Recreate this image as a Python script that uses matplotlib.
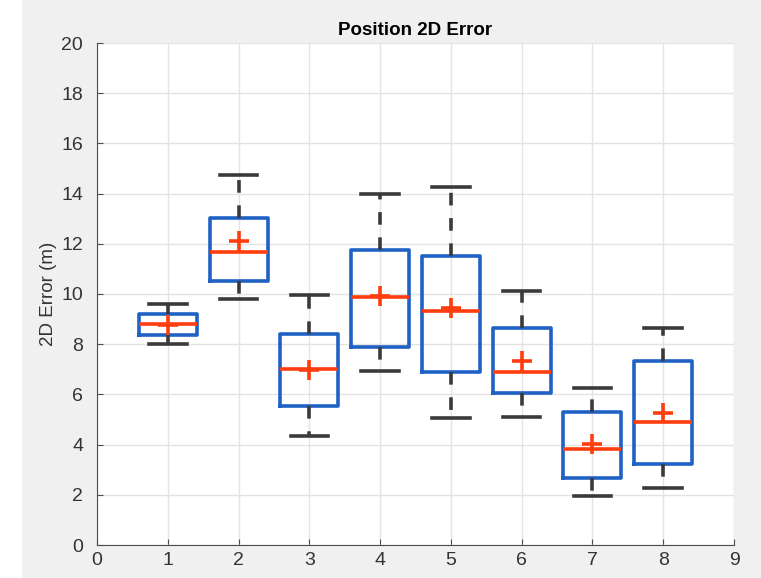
import matplotlib
matplotlib.use("Agg")
import matplotlib.pyplot as plt
from matplotlib.patches import Rectangle

plt.rcParams['font.family'] = ['Liberation Sans', 'DejaVu Sans']

# box statistics (metres)
groups = [1, 2, 3, 4, 5, 6, 7, 8]
q1 = [8.37, 10.53, 5.54, 7.88, 6.88, 6.04, 2.68, 3.23]
medians = [8.79, 11.69, 7.00, 9.89, 9.34, 6.89, 3.81, 4.91]
q3 = [9.19, 13.04, 8.39, 11.74, 11.51, 8.63, 5.28, 7.34]
whis_lo = [8.02, 9.79, 4.34, 6.95, 5.05, 5.11, 1.97, 2.28]
whis_hi = [9.60, 14.73, 9.96, 14.00, 14.25, 10.11, 6.24, 8.63]
means = [8.75, 12.11, 6.98, 9.93, 9.43, 7.33, 4.03, 5.25]

blue = '#1f62c4'
orange = '#ff3d0d'
dark = '#3a3a3a'

# Build stats for bxp
stats = []
for i in range(len(groups)):
    stats.append({'med': medians[i], 'q1': q1[i], 'q3': q3[i],
                  'whislo': whis_lo[i], 'whishi': whis_hi[i],
                  'mean': means[i], 'fliers': []})

fig = plt.figure(figsize=(7.61, 5.78), dpi=100, facecolor='#f0f0f0')
fig.patches.append(Rectangle((0, 0), 22 / 761, 1, transform=fig.transFigure,
                             facecolor='white', edgecolor='none', zorder=-1))
ax = fig.add_axes([97 / 761, 33 / 578, 637 / 761, 502 / 578])

ax.bxp(stats, positions=groups, widths=0.82, showmeans=True, showfliers=False,
       boxprops=dict(color=blue, linewidth=2.6),
       medianprops=dict(color=orange, linewidth=2.6),
       whiskerprops=dict(color=dark, linewidth=2.6, linestyle=(0, (3.5, 3.5))),
       capprops=dict(color=dark, linewidth=2.6),
       capwidths=0.53,
       meanprops=dict(marker='+', markeredgecolor=orange, markersize=15,
                      markeredgewidth=2.6, linestyle='none'))

ax.set_xlim(0, 9)
ax.set_ylim(0, 20)
ax.set_xticks(range(0, 10))
ax.set_xticklabels([str(t) for t in range(0, 10)])
ax.set_yticks(range(0, 21, 2))
ax.grid(True, color='#e3e3e3', linewidth=1)
ax.set_axisbelow(True)
ax.spines['top'].set_visible(False)
ax.spines['right'].set_visible(False)
ax.spines['left'].set_color('#4d4d4d')
ax.spines['bottom'].set_color('#4d4d4d')
ax.tick_params(direction='in', length=4, color='#4d4d4d', labelsize=14,
               labelcolor='#333333')
ax.tick_params(axis='y', pad=10)
ax.tick_params(axis='x', pad=5)
ax.set_ylabel('2D Error (m)', fontsize=13.5, color='#333333', labelpad=3)
ax.set_title('Position 2D Error', fontsize=13.5, fontweight='bold', pad=6)

fig.savefig('out.png', dpi=100, facecolor=fig.get_facecolor())
